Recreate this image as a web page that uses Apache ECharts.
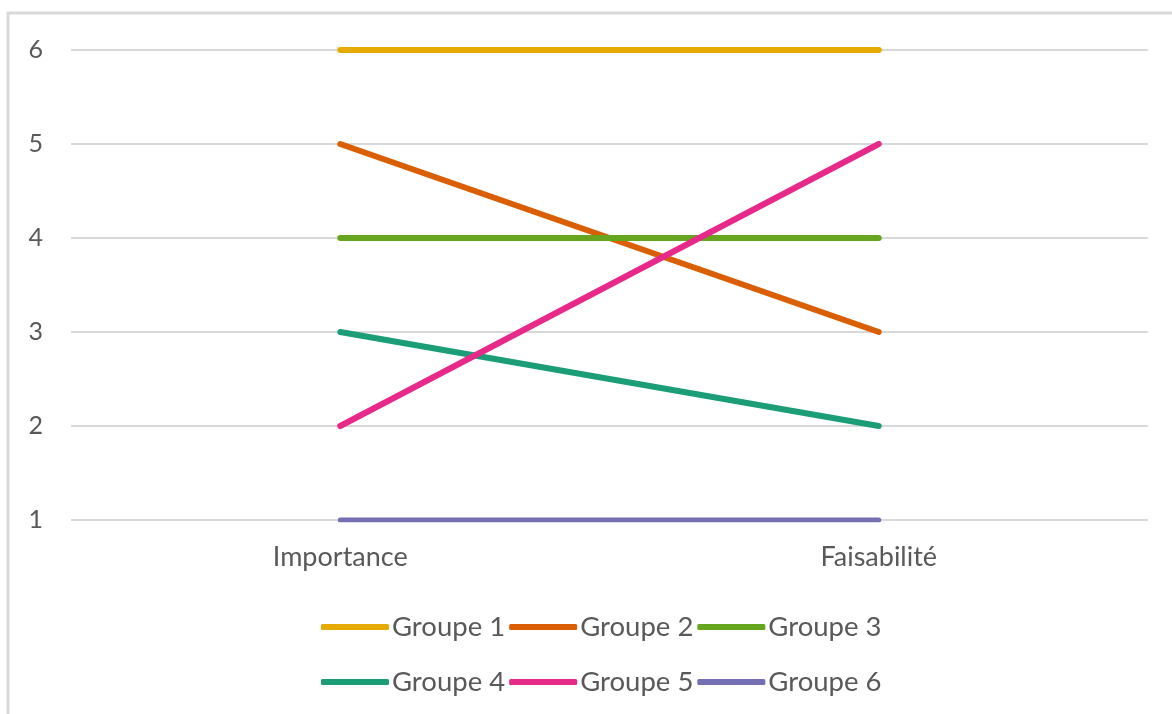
<!DOCTYPE html>
<html><head><meta charset="utf-8">
<script src="https://cdn.jsdelivr.net/npm/echarts@6/dist/echarts.min.js"></script>
<style>html,body{margin:0;padding:0;background:#fff}#c{width:1172px;height:714px}</style>
</head><body><div id="c"></div>
<script>
const categories = ['Importance', 'Faisabilité'];
const seriesNames = ['Groupe 1', 'Groupe 2', 'Groupe 3', 'Groupe 4', 'Groupe 5', 'Groupe 6'];
const groupe1 = [6, 6];
const groupe2 = [5, 3];
const groupe3 = [4, 4];
const groupe4 = [3, 2];
const groupe5 = [2, 5];
const groupe6 = [1, 1];
const yTicks = [1, 2, 3, 4, 5, 6];
const colors = ['#E6AB02', '#D95F02', '#66A61E', '#1B9E77', '#E7298A', '#7570B3'];

const values = [groupe1, groupe2, groupe3, groupe4, groupe5, groupe6];
const FONT = 'Lato';
const chart = echarts.init(document.getElementById('c'));
const legendCommon = {
  left: 316, orient: 'horizontal', icon: 'roundRect',
  itemWidth: 68, itemHeight: 6, itemGap: 4,
  textStyle: { fontFamily: FONT, fontSize: 27.5, color: '#595959', padding: [0, 0, 0, -2] }
};
chart.setOption({
  animation: false,
  graphic: [{ type: 'rect', shape: { x: 8, y: 13, width: 1300, height: 900 },
    style: { fill: 'none', stroke: '#d9d9d9', lineWidth: 3 }, z: -1 }],
  grid: { left: 71, right: 24, top: 50, bottom: 194 },
  legend: [
    Object.assign({}, legendCommon, { top: 608, data: seriesNames.slice(0, 3) }),
    Object.assign({}, legendCommon, { top: 663, data: seriesNames.slice(3, 6) })
  ],
  xAxis: {
    type: 'category', data: categories, boundaryGap: true,
    axisLine: { show: false }, axisTick: { show: false },
    axisLabel: { fontFamily: FONT, fontSize: 27, color: '#595959', margin: 24 }
  },
  yAxis: {
    type: 'value', min: yTicks[0], max: yTicks[yTicks.length - 1], interval: 1,
    axisLine: { show: false }, axisTick: { show: false },
    splitLine: { lineStyle: { color: '#d9d9d9', width: 2 } },
    axisLabel: { fontFamily: FONT, fontSize: 25, color: '#595959', margin: 28 }
  },
  series: seriesNames.map((n, i) => ({
    name: n, type: 'line', data: values[i], symbol: 'none',
    lineStyle: { color: colors[i], width: i === 5 ? 5 : 6, cap: 'round' },
    itemStyle: { color: colors[i] }
  }))
});
</script></body></html>
